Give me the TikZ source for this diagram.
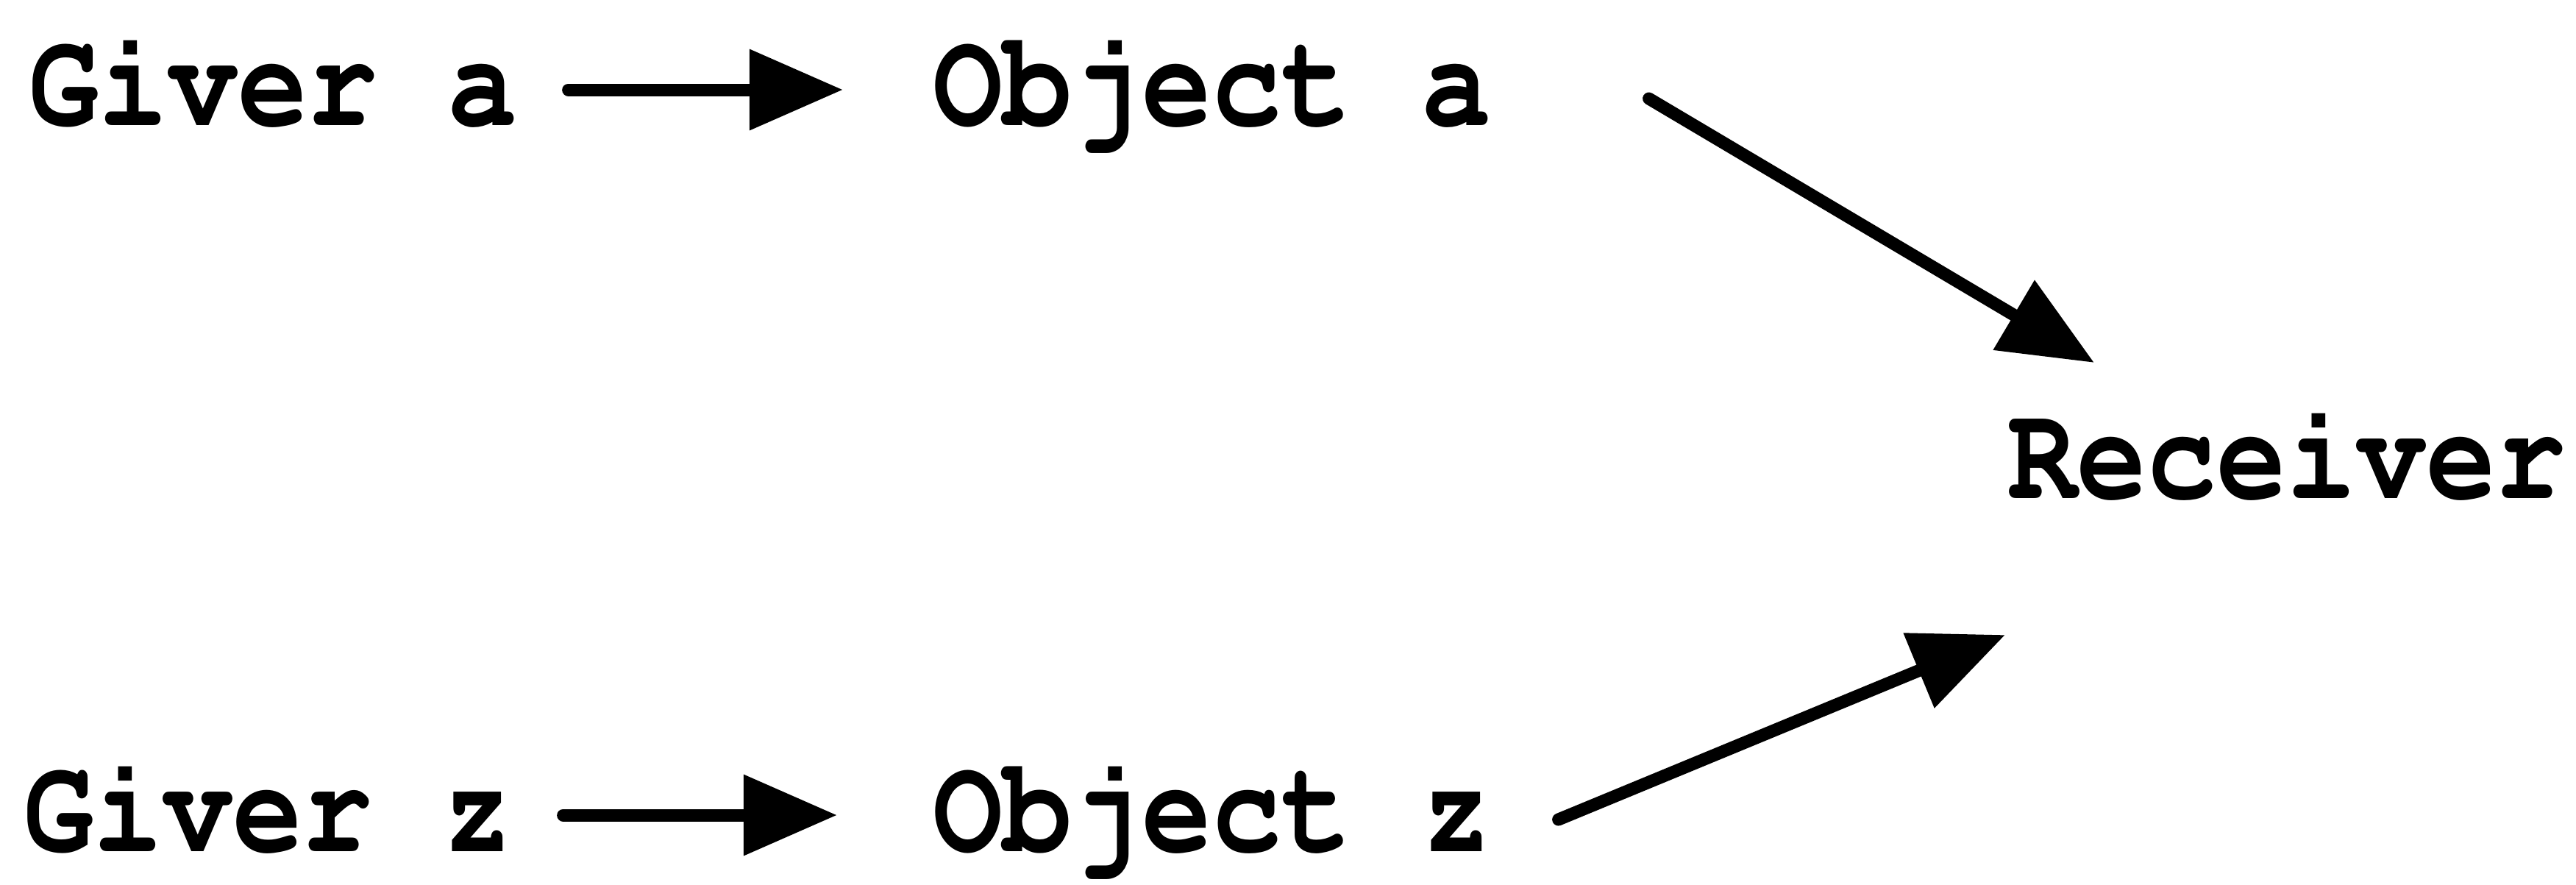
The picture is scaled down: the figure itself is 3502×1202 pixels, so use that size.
\documentclass[tikz,border=0pt]{standalone}
\usepackage[T1]{fontenc}
\usepackage{graphicx}
\usetikzlibrary{arrows.meta}
\newcommand{\tallx}[1]{\scalebox{1}[1.17]{#1}}
\tikzset{
  lbl/.style={inner sep=0pt, outer sep=0pt, font=\fontfamily{pcr}\fontseries{b}\fontsize{45pt}{54pt}\selectfont},
  conn/.style={line width=0.17cm, line cap=round, -{Triangle[length=1.27cm,width=1.06cm]}}
}
\begin{document}
\begin{tikzpicture}[x=0.01cm,y=-0.01cm]
\useasboundingbox (0,0) rectangle (3502,1202);
\node[lbl, anchor=base west] (ga) at (39,170) {\tallx{Giver a}};
\node[lbl, anchor=base west] (oa) at (1268,170) {\tallx{Object a}};
\node[lbl, anchor=base west] (rc) at (2729,677) {\tallx{Receiver}};
\node[lbl, anchor=base west] (gz) at (32,1157) {\tallx{Giver z}};
\node[lbl, anchor=base west] (oz) at (1268,1157) {\tallx{Object z}};
\draw[conn] ([shift={(69,-48)}]ga.base east) -- ([shift={(-122,-48)}]oa.base west);
\draw[conn] ([shift={(69,-49)}]gz.base east) -- ([shift={(-130,-49)}]oz.base west);
\draw[conn] ([shift={(214,-36)}]oa.base east) -- ([shift={(118,-184)}]rc.base west);
\draw[conn] ([shift={(91,-43)}]oz.base east) -- ([shift={(-3,186)}]rc.base west);
\end{tikzpicture}
\end{document}
